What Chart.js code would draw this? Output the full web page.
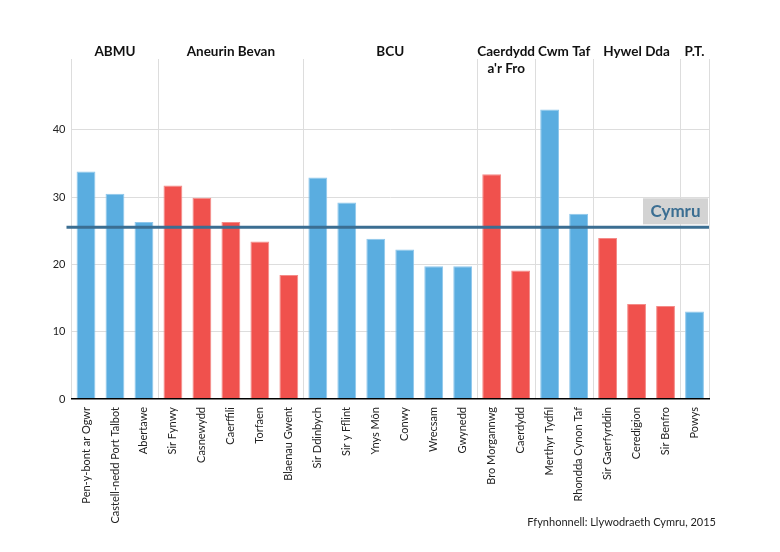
<!DOCTYPE html>
<html>
<head>
<meta charset="utf-8">
<script src="https://cdn.jsdelivr.net/npm/chart.js@4/dist/chart.umd.min.js"></script>
<style>
  html, body { margin: 0; padding: 0; background: #fff; }
  #wrap { width: 780px; height: 552px; }
</style>
</head>
<body>
<div id="wrap"><canvas id="chart" width="780" height="552"></canvas></div>
<script>
// Local authorities, in the order they appear on the axis
const areas = [
  'Pen-y-bont ar Ogwr', 'Castell-nedd Port Talbot', 'Abertawe',
  'Sir Fynwy', 'Casnewydd', 'Caerffili', 'Torfaen', 'Blaenau Gwent',
  'Sir Ddinbych', 'Sir y Fflint', 'Ynys Môn', 'Conwy', 'Wrecsam', 'Gwynedd',
  'Bro Morgannwg', 'Caerdydd',
  'Merthyr Tydfil', 'Rhondda Cynon Taf',
  'Sir Gaerfyrddin', 'Ceredigion', 'Sir Benfro',
  'Powys'
];
const values = [
  33.8, 30.5, 26.3,
  31.7, 29.9, 26.3, 23.4, 18.4,
  32.9, 29.2, 23.8, 22.2, 19.7, 19.7,
  33.4, 19.1,
  43.0, 27.5,
  23.9, 14.1, 13.8,
  13.0
];
// Health boards and how many areas each covers
const boards = ['ABMU', 'Aneurin Bevan', 'BCU', "Caerdydd\na'r Fro", 'Cwm Taf', 'Hywel Dda', 'P.T.'];
const boardSizes = [3, 5, 6, 2, 2, 3, 1];
const walesValue = 25.5;
const walesLabel = 'Cymru';
const yTicks = [0, 10, 20, 30, 40];
const sourceText = 'Ffynhonnell: Llywodraeth Cymru, 2015';

const BLUE = '#5aade0', BLUE_EDGE = '#8ec7ec';
const RED = '#f0514d', RED_EDGE = '#f48b88';
const FONT = 'Lato, "Open Sans", sans-serif';

// which board each area belongs to, and where each board starts
const boardOf = [];
const boardStart = [];
boardSizes.forEach((n, g) => {
  boardStart.push(boardOf.length);
  for (let i = 0; i < n; i++) boardOf.push(g);
});

const barColors = boardOf.map(g => (g % 2 === 0 ? BLUE : RED));
const edgeColors = boardOf.map(g => (g % 2 === 0 ? BLUE_EDGE : RED_EDGE));

const overlay = {
  id: 'overlay',
  afterDatasetsDraw(chart) {
    const { ctx, chartArea, scales } = chart;
    const x = scales.x, y = scales.y;

    // board names above the plot
    ctx.save();
    ctx.fillStyle = '#111';
    ctx.font = 'bold 13.5px ' + FONT;
    ctx.textAlign = 'center';
    ctx.textBaseline = 'middle';
    boards.forEach((name, g) => {
      const s = boardStart[g];
      const e = s + boardSizes[g] - 1;
      const cx = (x.getPixelForValue(s) + x.getPixelForValue(e)) / 2;
      name.split('\n').forEach((line, k) => {
        ctx.fillText(line, cx, chartArea.top - 7 + k * 17);
      });
    });

    // Wales average line
    const ly = y.getPixelForValue(walesValue);
    ctx.strokeStyle = '#3b6e92';
    ctx.lineWidth = 3;
    ctx.beginPath();
    ctx.moveTo(chartArea.left - 5, ly);
    ctx.lineTo(chartArea.right, ly);
    ctx.stroke();

    ctx.fillStyle = '#d3d3d3';
    ctx.fillRect(chartArea.right - 66, ly - 29, 65, 26);
    ctx.fillStyle = '#3b6e92';
    ctx.font = 'bold 17px ' + FONT;
    ctx.fillText(walesLabel, chartArea.right - 33.5, ly - 16);

    // source note
    ctx.fillStyle = '#222';
    ctx.font = '11px ' + FONT;
    ctx.textAlign = 'right';
    ctx.fillText(sourceText, 716, 522);
    ctx.restore();
  }
};

new Chart(document.getElementById('chart'), {
  type: 'bar',
  data: {
    labels: areas,
    datasets: [{
      data: values,
      backgroundColor: barColors,
      borderColor: edgeColors,
      borderWidth: 1,
      barPercentage: 0.65,
      categoryPercentage: 1
    }]
  },
  options: {
    responsive: false,
    animation: false,
    layout: { padding: { top: 59, right: 71, left: 29.5, bottom: 0 } },
    plugins: {
      legend: { display: false },
      tooltip: { enabled: false }
    },
    scales: {
      x: {
        afterFit(scale) { scale.height = 153; },
        grid: {
          offset: true,
          drawTicks: false,
          lineWidth: 1,
          color(c) {
            // lines only at board boundaries (and both ends)
            if (c.index === undefined) return '#dddddd';
            return boardStart.includes(c.index) ? '#dddddd' : 'rgba(0,0,0,0)';
          }
        },
        border: { display: true, color: '#000', width: 1.5, z: 1 },
        ticks: {
          autoSkip: false,
          minRotation: 90,
          maxRotation: 90,
          padding: 8,
          color: '#222',
          font: { family: FONT, size: 11 }
        }
      },
      y: {
        min: 0,
        max: 50.5,
        afterFit(scale) { scale.width = 42; },
        afterBuildTicks(scale) {
          scale.ticks = yTicks.map(v => ({ value: v }));
        },
        grid: {
          drawTicks: false,
          color(c) { return c.tick && c.tick.value === 0 ? 'rgba(0,0,0,0)' : '#dddddd'; }
        },
        border: { display: false },
        ticks: {
          padding: 6,
          color: '#222',
          font: { family: FONT, size: 11 }
        }
      }
    }
  },
  plugins: [overlay]
});
</script>
</body>
</html>
